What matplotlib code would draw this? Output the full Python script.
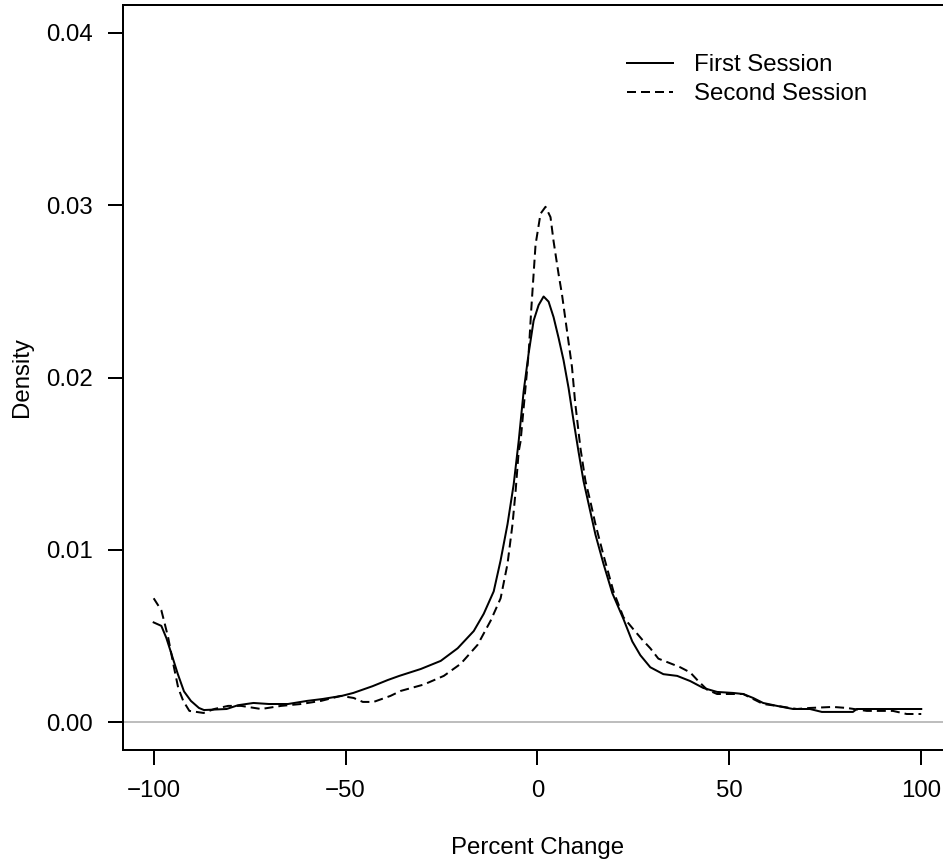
import matplotlib
matplotlib.use("Agg")
import matplotlib.pyplot as plt

# values
first_x = [-100, -98, -96.7, -95.4, -93.7, -92.1, -90.3, -88.2, -86.9, -81,
           -78, -74, -70, -65, -60, -56, -51, -48, -43, -39,
           -36, -30.4, -25.2, -20.8, -16.6, -14, -11.4, -9.6, -7.8, -6.2,
           -4.9, -3.6, -2.3, -1.0, 0.3, 1.6, 2.9, 4.2, 5.5, 6.8,
           8.1, 9.4, 10.7, 12.0, 13.3, 15.1, 17.2, 19.5, 22.4, 24.7,
           26.8, 29.4, 32.8, 36.4, 39.8, 43.2, 46.8, 51.0, 53.6, 56.2,
           58.8, 62.4, 66.6, 71.0, 74.1, 82.2, 83.2, 92.6, 100]
first_y = [0.0058, 0.0056, 0.0049, 0.0040, 0.0028, 0.0018, 0.00125, 0.00084, 0.00072, 0.00078,
           0.0010, 0.00113, 0.00107, 0.00107, 0.00125, 0.00136, 0.00154, 0.00171, 0.0021, 0.00246,
           0.0027, 0.0031, 0.00357, 0.0043, 0.0053, 0.0063, 0.0076, 0.0094, 0.0115, 0.0138,
           0.0163, 0.0192, 0.0214, 0.0233, 0.0242, 0.0247, 0.0244, 0.0235, 0.0223, 0.0210,
           0.0194, 0.0175, 0.0157, 0.0140, 0.0127, 0.0109, 0.0092, 0.0075, 0.0060, 0.0047,
           0.0039, 0.0032, 0.0028, 0.0027, 0.0024, 0.0020, 0.00177, 0.00171, 0.00165, 0.00142,
           0.00113, 0.00096, 0.00078, 0.00078, 0.00061, 0.00061, 0.00078, 0.00078, 0.00078]

second_x = [-100, -98, -97.2, -96.2, -94.9, -93.6, -92.3, -90.7, -87, -84.2,
            -80.6, -77.2, -72, -66.8, -61.6, -56.4, -51.2, -47.9, -45.5, -42.7,
            -38.3, -35.6, -29.6, -24.4, -20.0, -15.6, -12.2, -9.6, -7.8, -6.5,
            -5.7, -4.9, -4.4, -2.3, -1.6, -0.5, 0.8, 2.1, 3.4, 4.2,
            5.5, 6.4, 7.7, 9.0, 9.8, 11.2, 12.5, 13.8, 15.1, 17.2,
            19.8, 22.4, 25.0, 27.3, 29.4, 31.5, 33.8, 37.2, 39.8, 41.9,
            44.2, 46.8, 53.6, 56.2, 58.8, 62.4, 67.6, 71.0, 77.0, 80.6,
            85.8, 92.6, 96.2, 100]
second_y = [0.0072, 0.0065, 0.0058, 0.0049, 0.0034, 0.0020, 0.00125, 0.00067, 0.00055, 0.00078,
            0.00096, 0.00096, 0.00078, 0.00096, 0.00107, 0.00125, 0.00154, 0.00142, 0.00119, 0.00119,
            0.00154, 0.00183, 0.0022, 0.0027, 0.0034, 0.0045, 0.0059, 0.0072, 0.0092, 0.0115,
            0.0134, 0.0157, 0.0163, 0.0214, 0.0240, 0.0277, 0.0295, 0.0299, 0.0293, 0.0279,
            0.0260, 0.0248, 0.0227, 0.0206, 0.0186, 0.0159, 0.0140, 0.0128, 0.0115, 0.0097,
            0.0076, 0.0061, 0.0054, 0.0048, 0.0043, 0.0037, 0.0035, 0.0032, 0.0029, 0.0024,
            0.0019, 0.00165, 0.00165, 0.00136, 0.00107, 0.00096, 0.00078, 0.00084, 0.0009, 0.00084,
            0.00067, 0.00067, 0.00049, 0.00049]

x_ticks = [-100, -50, 0, 50, 100]
y_ticks = [0.00, 0.01, 0.02, 0.03, 0.04]
series_names = ["First Session", "Second Session"]

plt.rcParams['font.family'] = ['Liberation Sans', 'DejaVu Sans']
FS = 17.3
LW = 1.44

fig = plt.figure(figsize=(9.43, 8.67), dpi=100)
# axes runs past the right edge, the reference is cropped there
ax = fig.add_axes([0.1304, 0.1349, 0.8791, 0.8593])

ax.axhline(0, color='#bebebe', lw=LW, zorder=1)
ax.plot(first_x, first_y, color='black', lw=LW, ls='-', label=series_names[0])
ax.plot(second_x, second_y, color='black', lw=LW, ls=(0, (4.5, 2.5)), label=series_names[1])

ax.set_xlim(-108, 108)
ax.set_ylim(-0.0016, 0.0416)
ax.set_xticks(x_ticks)
ax.set_xticklabels([str(v).replace('-', '\u2212') for v in x_ticks])
ax.set_yticks(y_ticks)
ax.set_yticklabels([f"{v:.2f}" for v in y_ticks])

for sp in ax.spines.values():
    sp.set_linewidth(LW)
ax.tick_params(direction='out', length=10.8, width=LW, labelsize=FS, colors='black')
ax.tick_params(axis='x', pad=11)
ax.tick_params(axis='y', pad=11)

ax.set_xlabel("Percent Change", fontsize=FS)
ax.xaxis.label.set_va('center')
ax.xaxis.set_label_coords(0.5, -0.1315)
ax.set_ylabel("Density", fontsize=FS)
ax.yaxis.label.set_va('center')
ax.yaxis.set_label_coords(-0.1218, 0.5)

ax.legend(loc='upper left', bbox_to_anchor=(0.608, 0.934), frameon=False,
          fontsize=FS, handlelength=1.92, handletextpad=0.875,
          labelspacing=0.3, borderpad=0, borderaxespad=0)

fig.savefig("out.png", dpi=100)
